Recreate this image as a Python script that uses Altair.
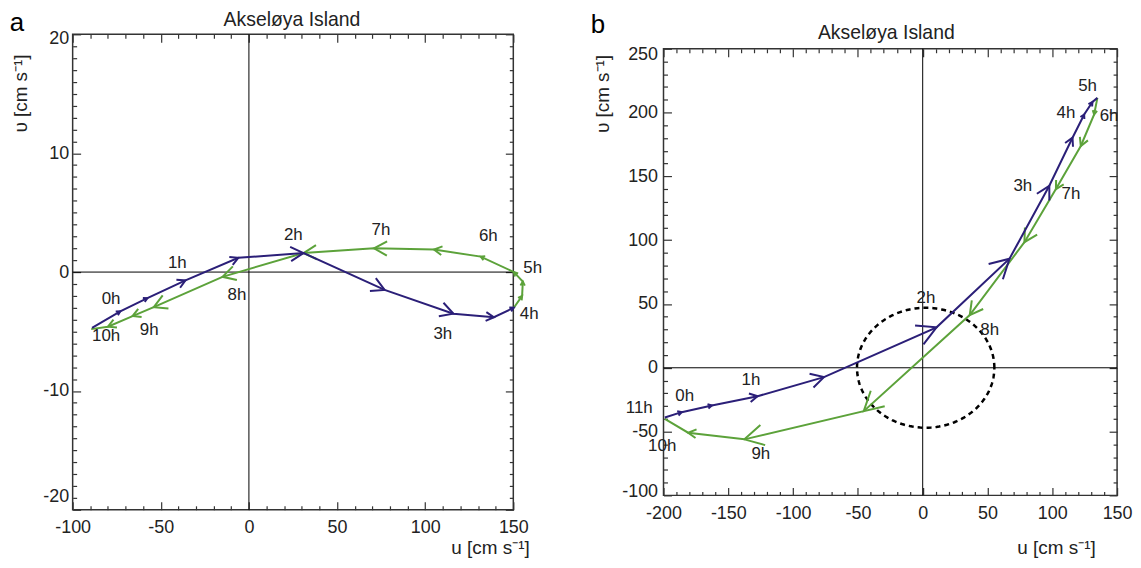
import math
import numpy as np
import pandas as pd
import altair as alt

FONT = "Liberation Sans"
BLUE = "#2b1f78"
GREEN = "#5ca23a"
INK = "#222222"
FRAME = "#333333"

# ---------------- panel a data ----------------
A_BLUE_U = [-89, -73, -57.6, -36, -6, 31, 77, 116, 139, 150.3]
A_BLUE_V = [-4.7, -3.3, -2.2, -0.7, 1.2, 1.6, -1.5, -3.5, -3.8, -3.0]
A_GREEN_U = [150.3, 155, 155.4, 150.3, 131.5, 105, 71, 31, -15, -54, -66, -80, -89.5]
A_GREEN_V = [-3.0, -2.0, -0.8, 0.0, 1.3, 1.9, 2.0, 1.6, -0.4, -2.95, -3.7, -4.6, -4.8]
A_LABELS = ["0h", "1h", "2h", "3h", "4h", "5h", "6h", "7h", "8h", "9h", "10h"]
A_LABEL_U = [-78.2, -40.6, 25.2, 110, 159, 161, 135.8, 74.9, -6.8, -56.6, -81]
A_LABEL_V = [-2.26, 0.75, 3.1, -5.2, -3.5, 0.33, 3.0, 3.5, -1.92, -4.85, -5.4]

# ---------------- panel b data ----------------
B_BLUE_U = [-199, -186, -162.7, -127.4, -76.2, 10.7, 67, 97.7, 115.6, 124.6, 131, 134.8]
B_BLUE_V = [-39, -34.8, -29.6, -22.3, -7.3, 31.7, 85.5, 142.6, 180.3, 198.5, 208.3, 211.5]
B_GREEN_U = [134.8, 132.3, 122, 102.8, 78.5, 36.3, -45.5, -137.6, -181, -199]
B_GREEN_V = [211.5, 198.5, 173.8, 140, 98.4, 41.3, -34, -56.1, -50.9, -40]
B_LABELS = ["0h", "1h", "2h", "3h", "4h", "5h", "6h", "7h", "8h", "9h", "10h", "11h"]
B_LABEL_U = [-183.7, -132.5, 2.5, 77.3, 110.5, 127.2, 143.8, 114.4, 51.7, -124.9, -201, -218.7]
B_LABEL_V = [-22.3, -9.9, 54.3, 142.6, 199.8, 220.6, 197.2, 136.2, 29.6, -67.8, -61.3, -31.2]
ELLIPSE_CENTER = (2.3, 0.0)
ELLIPSE_RADII = (53.0, 47.0)

TITLE = "Akseløya Island"
X_TITLE = "u [cm s⁻¹]"
Y_TITLE = "υ [cm s⁻¹]"

# arrowhead styling (which vertices carry a chevron, and how big)
A_BLUE_ARROWS = {1: "s", 2: "s", 3: "m", 4: "m", 5: "l", 6: "l", 7: "l", 8: "m", 9: "s"}
A_GREEN_ARROWS = {1: "s", 2: "s", 3: "s", 4: "s", 5: "m", 6: "l", 7: "l", 8: "l", 9: "l", 10: "m", 11: "m"}
B_BLUE_ARROWS = {1: "s", 2: "s", 3: "m", 4: "l", 5: "xl", 6: "xl", 7: "l", 8: "m", 9: "s", 10: "s"}
B_GREEN_ARROWS = {1: "s", 2: "m", 3: "m", 4: "l", 5: "l", 6: "xl", 7: "xl", 8: "m"}
ARM = {"s": 4, "m": 8, "l": 13, "xl": 19}
CHEVRON = "M-1,-0.55L0,0L-1,0.55"


def panel(cfg):
    W, H = cfg["W"], cfg["H"]
    xd, yd = cfg["xdom"], cfg["ydom"]
    sx = W / (xd[1] - xd[0])
    sy = H / (yd[1] - yd[0])
    xs = alt.Scale(domain=list(xd), nice=False, zero=False)
    ys = alt.Scale(domain=list(yd), nice=False, zero=False)

    xmin_vals = list(range(xd[0], xd[1] + 1, cfg["xminor"]))
    ymin_vals = list(range(yd[0], yd[1] + 1, cfg["yminor"]))
    xmaj_vals = list(range(xd[0], xd[1] + 1, cfg["xmajor"]))
    ymaj_vals = list(range(yd[0], yd[1] + 1, cfg["ymajor"]))
    xcond = {"condition": {"test": f"datum.value % {cfg['xmajor']} === 0", "value": 8}, "value": 4}
    ycond = {"condition": {"test": f"datum.value % {cfg['ymajor']} === 0", "value": 8}, "value": 4}
    # end labels of the y axis sit a little inside the frame
    ylaboff = {"condition": [
        {"test": f"datum.value === {yd[1]}", "value": cfg["ylab_end_off"][1]},
        {"test": f"datum.value === {yd[0]}", "value": cfg["ylab_end_off"][0]},
    ], "value": 0}

    def tick_axis(orient, vals, cond, off):
        return alt.Axis(orient=orient, offset=off, values=vals, tickSize=cond,
                        tickColor=FRAME, tickWidth=1.2, labels=False, domain=False,
                        grid=False, title=None)

    lab_x = alt.Axis(orient="bottom", values=xmaj_vals, ticks=False, tickSize=0, domain=False,
                     grid=False, labelFont=FONT, labelFontSize=18, labelColor=INK,
                     labelExpr="'' + datum.value",
                     labelPadding=cfg["xlabpad"], labelFlush=False, labelOverlap=False,
                     title=X_TITLE, titleFont=FONT, titleFontSize=19,
                     titleFontWeight="normal", titleColor=INK, titleX=cfg["xtitleX"],
                     titleY=cfg["xtitleY"], titleAlign="right", titleBaseline="middle")
    lab_y = alt.Axis(orient="left", values=ymaj_vals, ticks=False, tickSize=0, domain=False,
                     grid=False, labelFont=FONT, labelFontSize=18, labelColor=INK,
                     labelExpr="'' + datum.value", labelOffset=ylaboff,
                     labelPadding=cfg["ylabpad"], labelFlush=False, labelOverlap=False,
                     title=Y_TITLE, titleFont=FONT, titleFontSize=19,
                     titleFontWeight="normal", titleColor=INK, titleX=cfg["ytitleX"],
                     titleY=cfg["ytitleY"], titleAngle=270, titleAlign="center",
                     titleBaseline="middle")

    anchor = pd.DataFrame({"u": [0.0], "v": [0.0]})
    carrier = alt.Chart(anchor).mark_point(opacity=0)
    axes = [
        carrier.encode(x=alt.X("u:Q", scale=xs, axis=lab_x), y=alt.Y("v:Q", scale=ys, axis=lab_y)),
        carrier.encode(x=alt.X("u:Q", scale=xs, axis=tick_axis("top", xmin_vals, xcond, -H)),
                       y=alt.Y("v:Q", scale=ys, axis=tick_axis("right", ymin_vals, ycond, -W))),
        carrier.encode(x=alt.X("u:Q", scale=xs, axis=tick_axis("bottom", xmin_vals, xcond, -H)),
                       y=alt.Y("v:Q", scale=ys, axis=tick_axis("left", ymin_vals, ycond, -W))),
    ]

    X = lambda: alt.X("u:Q", scale=xs, axis=None)
    Y = lambda: alt.Y("v:Q", scale=ys, axis=None)

    layers = []
    if cfg.get("ellipse"):
        (cu, cv), (ru, rv) = cfg["ellipse"]
        t = np.linspace(0, 2 * np.pi, 161)
        edf = pd.DataFrame({"u": cu + ru * np.cos(t), "v": cv + rv * np.sin(t), "k": np.arange(len(t))})
        layers.append(alt.Chart(edf).mark_line(color="black", strokeWidth=2.5, strokeDash=[5, 4])
                      .encode(x=X(), y=Y(), order="k:Q"))

    layers.append(alt.Chart(pd.DataFrame({"u": [0]})).mark_rule(color="black", strokeWidth=1)
                  .encode(x=X()))
    layers.append(alt.Chart(pd.DataFrame({"v": [0]})).mark_rule(color="black", strokeWidth=1)
                  .encode(y=Y()))

    for us, vs, arrows, color in cfg["tracks"]:
        ldf = pd.DataFrame({"u": us, "v": vs, "k": range(len(us))})
        rows = []
        for i, kind in arrows.items():
            du = us[i] - us[i - 1]
            dv = vs[i] - vs[i - 1]
            ang = math.degrees(math.atan2(-dv * sy, du * sx)) % 360
            rows.append({"u": us[i], "v": vs[i], "ang": ang, "sz": (2 * ARM[kind]) ** 2})
        adf = pd.DataFrame(rows)
        layers.append(alt.Chart(ldf).mark_line(color=color, strokeWidth=2)
                      .encode(x=X(), y=Y(), order="k:Q"))
        layers.append(alt.Chart(adf).mark_point(shape=CHEVRON, filled=False, color=color,
                                                strokeWidth=2, opacity=1)
                      .encode(x=X(), y=Y(), angle=alt.Angle("ang:Q", scale=None),
                              size=alt.Size("sz:Q", scale=None)))

    tdf = pd.DataFrame({"t": cfg["labels"], "u": cfg["label_u"], "v": cfg["label_v"]})
    layers.append(alt.Chart(tdf).mark_text(font=FONT, fontSize=17, color=INK)
                  .encode(x=X(), y=Y(), text="t:N"))

    # panel letter and panel title, placed just above the plot frame
    layers.append(alt.Chart(pd.DataFrame({"t": [cfg["letter"]]})).mark_text(
        font=FONT, fontSize=26, color="black", align="center", baseline="alphabetic"
    ).encode(x=alt.value(cfg["letter_xy"][0]), y=alt.value(cfg["letter_xy"][1]), text="t:N"))
    layers.append(alt.Chart(pd.DataFrame({"t": [TITLE]})).mark_text(
        font=FONT, fontSize=19.5, color=INK, align="center", baseline="alphabetic"
    ).encode(x=alt.value(W / 2 + cfg["title_dx"]), y=alt.value(cfg["title_y"]), text="t:N"))

    return alt.layer(*layers, *axes).resolve_axis(x="independent", y="independent").properties(
        width=W, height=H)


pa = panel(dict(
    W=443, H=478, xdom=(-100, 150), ydom=(-20, 20), xminor=10, yminor=1, xmajor=50, ymajor=10,
    xlabpad=9, ylabpad=4, ylab_end_off=(-13, 4.5),
    xtitleX=459, xtitleY=38, ytitleX=-52, ytitleY=59,
    tracks=[(A_GREEN_U, A_GREEN_V, A_GREEN_ARROWS, GREEN), (A_BLUE_U, A_BLUE_V, A_BLUE_ARROWS, BLUE)],
    labels=A_LABELS, label_u=A_LABEL_U, label_v=A_LABEL_V,
    letter="a", letter_xy=(-56, -3), title_y=-8, title_dx=-1,
))

pb = panel(dict(
    W=456, H=449, xdom=(-200, 150), ydom=(-100, 250), xminor=10, yminor=10, xmajor=50, ymajor=50,
    xlabpad=9, ylabpad=6, ylab_end_off=(-4, 5.5),
    xtitleX=434, xtitleY=52, ytitleX=-61, ytitleY=45,
    tracks=[(B_GREEN_U, B_GREEN_V, B_GREEN_ARROWS, GREEN), (B_BLUE_U, B_BLUE_V, B_BLUE_ARROWS, BLUE)],
    labels=B_LABELS, label_u=B_LABEL_U, label_v=B_LABEL_V,
    ellipse=(ELLIPSE_CENTER, ELLIPSE_RADII),
    letter="b", letter_xy=(-66, -16), title_y=-10, title_dx=-4,
))

chart = alt.hconcat(pa, pb, spacing=151, bounds="flush", center=True).configure_view(
    stroke=FRAME, strokeWidth=1.5
).properties(padding={"left": 1, "top": 0, "right": 0, "bottom": 0})

chart.save("out.html", embed_options={"renderer": "svg", "actions": False})
